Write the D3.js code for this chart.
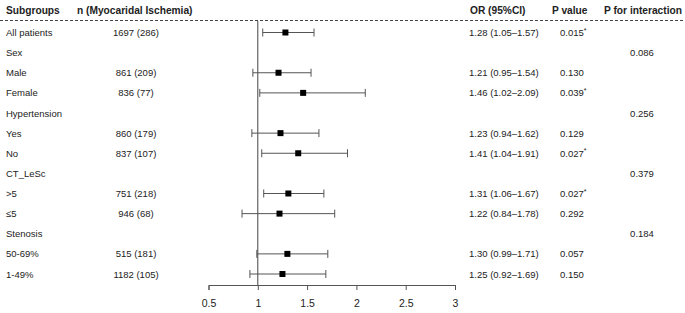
<!DOCTYPE html>
<html>
<head>
<meta charset="utf-8">
<script src="https://cdn.jsdelivr.net/npm/d3@7"></script>
<style>
  body { margin: 0; background: #fff; }
  svg text { font-family: "Liberation Sans", Arial, sans-serif; fill: #222; }
</style>
</head>
<body>
<svg></svg>
<script>
const width = 685, height = 313

// rows of the table, top to bottom ('' = header row of a group)
const subgroups = ['All patients', 'Sex', 'Male', 'Female', 'Hypertension', 'Yes', 'No',
  'CT_LeSc', '>5', '≤5', 'Stenosis', '50-69%', '1-49%']
const nText = ['1697 (286)', '', '861 (209)', '836 (77)', '', '860 (179)', '837 (107)',
  '', '751 (218)', '946 (68)', '', '515 (181)', '1182 (105)']
const orVals = [1.28, null, 1.21, 1.46, null, 1.23, 1.41, null, 1.31, 1.22, null, 1.30, 1.25]
const loVals = [1.05, null, 0.95, 1.02, null, 0.94, 1.04, null, 1.06, 0.84, null, 0.99, 0.92]
const hiVals = [1.57, null, 1.54, 2.09, null, 1.62, 1.91, null, 1.67, 1.78, null, 1.71, 1.69]
const pVals = ['0.015', '', '0.130', '0.039', '', '0.129', '0.027', '', '0.027', '0.292', '', '0.057', '0.150']
const pStar = [true, false, false, true, false, false, true, false, true, false, false, false, false]
const pInter = ['', '0.086', '', '', '0.256', '', '', '0.379', '', '', '0.184', '', '']
const xTicks = [0.5, 1, 1.5, 2, 2.5, 3]

const svg = d3.select('svg').attr('width', width).attr('height', height)

const x = d3.scaleLinear().domain([0.5, 3]).range([208.5, 455])
const y = d3.scaleLinear().domain([0, subgroups.length - 1]).range([32.5, 274])
const axisY = 285

const fmt = d3.format('.2f')
const orText = i => orVals[i] == null ? '' :
  `${fmt(orVals[i])} (${fmt(loVals[i])}–${fmt(hiVals[i])})`

// header
const head = svg.append('g').attr('font-weight', 'bold').attr('font-size', '10.2px')
head.append('text').attr('x', 6).attr('y', 14).text('Subgroups')
head.append('text').attr('x', 77).attr('y', 14).text('n (Myocaridal Ischemia)')
head.append('text').attr('x', 470).attr('y', 14).text('OR (95%CI)')
head.append('text').attr('x', 552).attr('y', 14).text('P value')
head.append('text').attr('x', 643).attr('y', 14).attr('text-anchor', 'middle').text('P for interaction')

svg.append('line')
  .attr('x1', 0).attr('x2', width).attr('y1', 20.5).attr('y2', 20.5)
  .attr('stroke', '#444').attr('stroke-dasharray', '3,2')

// table columns
const rows = svg.append('g').attr('font-size', '9.5px')
  .selectAll('g').data(subgroups).join('g')
  .attr('transform', (d, i) => `translate(0,${y(i) + 3.5})`)

rows.append('text').attr('x', 6).text(d => d)
rows.append('text').attr('x', 136).attr('text-anchor', 'middle').text((d, i) => nText[i])
rows.append('text').attr('x', 469).text((d, i) => orText(i))
const pt = rows.append('text').attr('x', 560).text((d, i) => pVals[i])
pt.filter((d, i) => pStar[i]).append('tspan')
  .attr('dy', -3.5).attr('font-size', '7px').text('*')
rows.append('text').attr('x', 642).attr('text-anchor', 'middle').text((d, i) => pInter[i])

// reference line at OR = 1
svg.append('line')
  .attr('x1', x(1)).attr('x2', x(1)).attr('y1', 21).attr('y2', axisY)
  .attr('stroke', '#444').attr('stroke-width', 1)

// CIs and points
const idx = d3.range(subgroups.length).filter(i => orVals[i] != null)
const ci = svg.append('g').attr('stroke', '#555').attr('stroke-width', 1)
  .selectAll('g').data(idx).join('g')

ci.append('line')
  .attr('x1', i => x(loVals[i])).attr('x2', i => x(hiVals[i]))
  .attr('y1', i => y(i)).attr('y2', i => y(i))
ci.append('line')
  .attr('x1', i => x(loVals[i])).attr('x2', i => x(loVals[i]))
  .attr('y1', i => y(i) - 4).attr('y2', i => y(i) + 4)
ci.append('line')
  .attr('x1', i => x(hiVals[i])).attr('x2', i => x(hiVals[i]))
  .attr('y1', i => y(i) - 4).attr('y2', i => y(i) + 4)

svg.append('g').selectAll('rect').data(idx).join('rect')
  .attr('x', i => x(orVals[i]) - 3).attr('y', i => y(i) - 3)
  .attr('width', 6).attr('height', 6).attr('fill', '#000')

// x axis
const xAxis = d3.axisBottom(x).tickValues(xTicks).tickFormat(d3.format('')).tickSize(5).tickPadding(10)
const ax = svg.append('g').attr('transform', `translate(0,${axisY})`).call(xAxis)
ax.select('.domain').attr('stroke', '#555')
ax.selectAll('.tick line').attr('stroke', '#555')
ax.selectAll('text').attr('font-size', '10.5px').attr('fill', '#222')
  .attr('font-family', '"Liberation Sans", Arial, sans-serif')
</script>
</body>
</html>
